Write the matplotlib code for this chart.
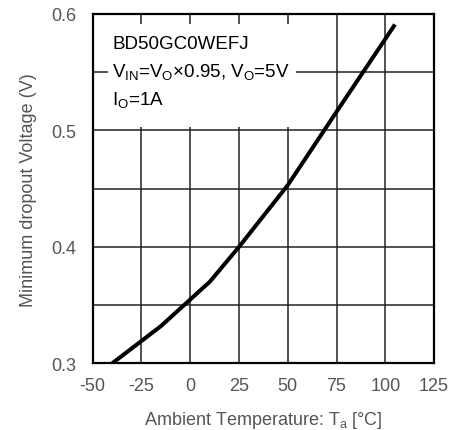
import matplotlib
matplotlib.use('Agg')
import matplotlib.pyplot as plt
import numpy as np

plt.rcParams['font.family'] = ['Liberation Sans', 'DejaVu Sans']
plt.rcParams['mathtext.fontset'] = 'custom'
plt.rcParams['mathtext.rm'] = 'Liberation Sans'
plt.rcParams['mathtext.it'] = 'Liberation Sans'

temp = [-40, -15, 10, 25, 50, 75, 105]
vdrop = [0.300, 0.332, 0.370, 0.400, 0.453, 0.516, 0.591]

xticks = [-50, -25, 0, 25, 50, 75, 100, 125]
yticks = [0.3, 0.4, 0.5, 0.6]
ygrid = [0.35, 0.4, 0.45, 0.5, 0.55]

fig = plt.figure(figsize=(4.54, 4.31), dpi=100)
ax = fig.add_axes([0.2042, 0.1547, 0.7518, 0.8105])

ax.set_xlim(-50, 125)
ax.set_ylim(0.3, 0.6)

for x in xticks[1:-1]:
    ax.axvline(x, color='#222222', lw=1.1, zorder=1)
for y in ygrid:
    ax.axhline(y, color='#222222', lw=1.1, zorder=1)

ax.plot(temp, vdrop, color='black', lw=2.9, zorder=4, solid_capstyle='butt')

ax.set_xticks(xticks)
ax.set_xticklabels([str(t) for t in xticks])
ax.set_yticks(yticks)
ax.set_yticklabels(['0.3', '0.4', '0.5', '0.6'])
ax.tick_params(length=0, labelsize=13, colors='#555555')
ax.tick_params(axis='x', pad=10)
ax.tick_params(axis='y', pad=12)
for s in ax.spines.values():
    s.set_linewidth(1.6)
    s.set_color('black')
    s.set_zorder(5)

ax.set_xlabel('Ambient Temperature: T$_\\mathregular{a}$ [°C]', fontsize=13,
              color='#555555', labelpad=10.5)
ax.set_ylabel('Minimum dropout Voltage (V)', fontsize=13, color='#555555',
              labelpad=10)

# white panel behind the condition text
ax.add_patch(plt.Rectangle((-42, 0.503), 96, 0.0885, facecolor='white',
                           edgecolor='none', zorder=2))
ax.text(-40, 0.575, 'BD50GC0WEFJ', fontsize=13.5, va='center', zorder=3)
ax.text(-40, 0.551, 'V$_\\mathregular{IN}$=V$_\\mathregular{O}$×0.95, V$_\\mathregular{O}$=5V',
        fontsize=13.5, va='center', zorder=3)
ax.text(-40, 0.527, 'I$_\\mathregular{O}$=1A', fontsize=13.5, va='center', zorder=3)

fig.savefig('out.png', dpi=100)
